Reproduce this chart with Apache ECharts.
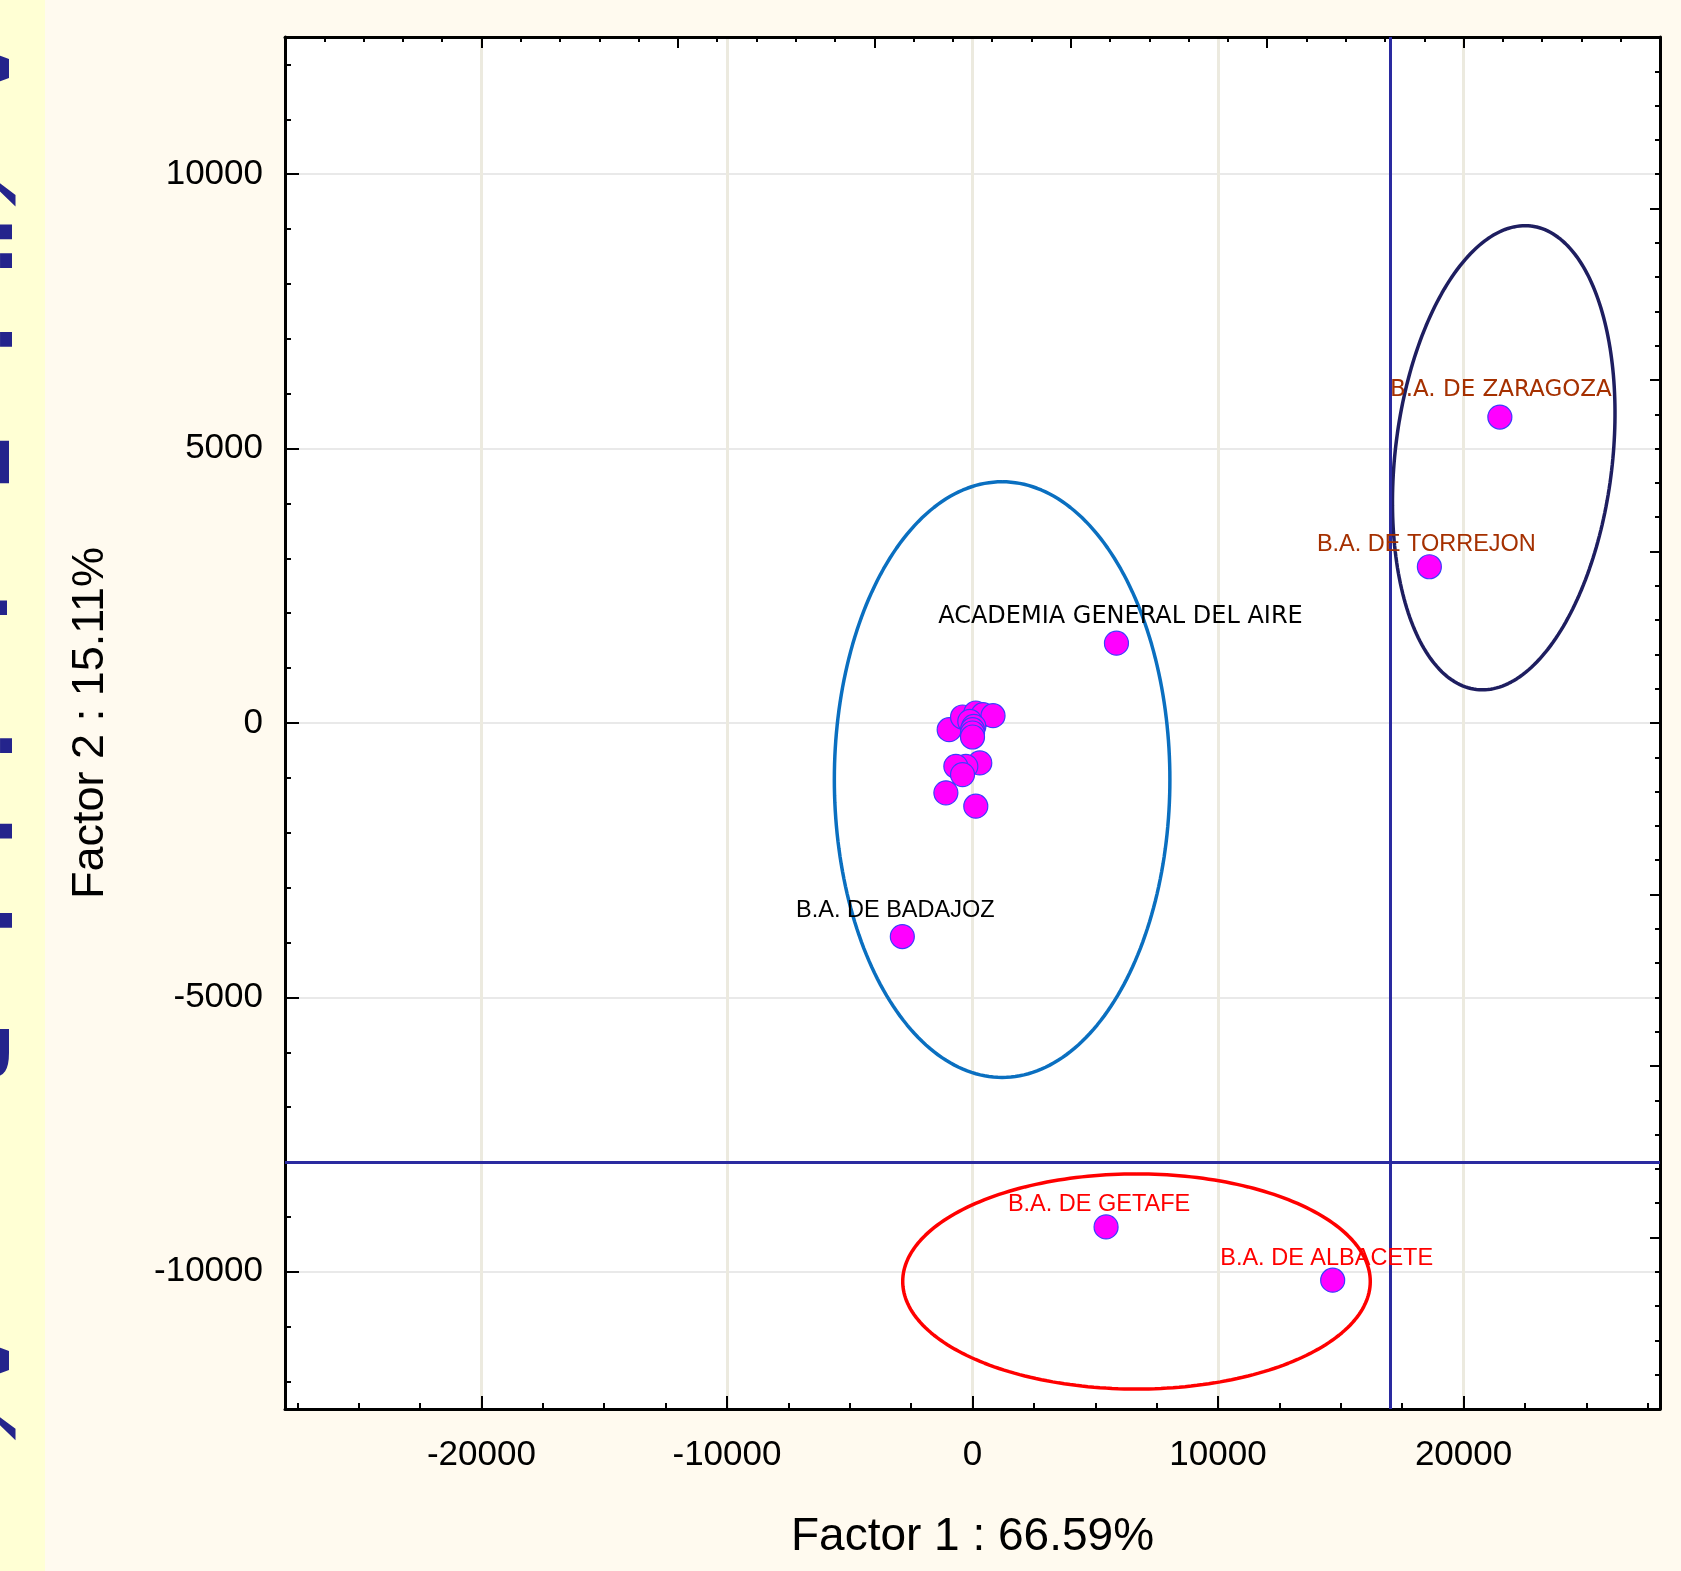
<!DOCTYPE html>
<html>
<head>
<meta charset="utf-8">
<script src="https://cdn.jsdelivr.net/npm/echarts@6/dist/echarts.min.js"></script>
<style>
html,body{margin:0;padding:0;background:#FFFAEF;}
#chart{width:1681px;height:1571px;}
</style>
</head>
<body>
<div id="chart"></div>
<script>
// ---------------- data ----------------
const pointNames = [
  'ACADEMIA GENERAL DEL AIRE', 'B.A. DE BADAJOZ', 'B.A. DE ZARAGOZA', 'B.A. DE TORREJON',
  'B.A. DE GETAFE', 'B.A. DE ALBACETE',
  '', '', '', '', '', '', '', '', '', '', '', '', '', '', '', ''
];
const factor1 = [5863, -2858, 21478, 18607, 5440, 14669,
  -950, -406, 134, 430, 836, -110, 53, 0, 0, 0, 296, -272, -678, -406, -1084, 134];
const factor2 = [1455, -3891, 5575, 2847, -9182, -10153,
  -122, 109, 182, 151, 133, 29, -62, -122, -182, -255, -727, -789, -789, -940, -1273, -1516];

const xTickLabels = ['-20000', '-10000', '0', '10000', '20000'];
const yTickLabels = ['-10000', '-5000', '0', '5000', '10000'];
const xRange = [-28000, 28000];
const yRange = [-12500, 12500];
const xTitle = 'Factor 1 : 66.59%';
const yTitle = 'Factor 2 : 15.11%';

const cutLineX = [17000];
const cutLineY = [-8000];

// ellipses: centre and two conjugate semi-axis vectors (data units)
const ellipseCenterX = [1206, 21636, 6679];
const ellipseCenterY = [-1031, 4833, -10176];
const ellipseAxis1X = [0, 1112, 0];
const ellipseAxis1Y = [5427, 4222, 1960];
const ellipseAxis2X = [6833, 4393, 9521];
const ellipseAxis2Y = [0, -233, 0];

// ---------------- styles ----------------
const ellipseColors = ['#0A6FC0', '#1E1E60', '#FF0000'];
const labelStyles = {
  'ACADEMIA GENERAL DEL AIRE': {color: '#000000', fontFamily: 'DejaVu Sans', fontSize: 24, offset: [4, 2]},
  'B.A. DE BADAJOZ': {color: '#000000', fontFamily: 'Liberation Sans', fontSize: 23.5, offset: [-7, 3]},
  'B.A. DE ZARAGOZA': {color: '#A53000', fontFamily: 'DejaVu Sans', fontSize: 23, offset: [1, 1]},
  'B.A. DE TORREJON': {color: '#A53000', fontFamily: 'Liberation Sans', fontSize: 23.5, offset: [-3, 6]},
  'B.A. DE GETAFE': {color: '#FF0000', fontFamily: 'Liberation Sans', fontSize: 23.5, offset: [-7, 6]},
  'B.A. DE ALBACETE': {color: '#FF0000', fontFamily: 'Liberation Sans', fontSize: 23.5, offset: [-6, 7]}
};

// ---------------- decorative axis categories ----------------
const xCats = [];
for (let v = xRange[0]; v <= xRange[1]; v += 500) xCats.push(String(v));
const yCats = [];
for (let v = yRange[0]; v <= yRange[1]; v += 500) yCats.push(String(v));
const topCats = [];
for (let i = 0; i <= 35; i++) topCats.push(String(i));
const rightCats = [];
for (let i = 0; i <= 40; i++) rightCats.push(String(i));

function ellipsePath(k) {
  const pts = [];
  for (let i = 0; i <= 240; i++) {
    const t = 2 * Math.PI * i / 240;
    pts.push([
      ellipseCenterX[k] + ellipseAxis1X[k] * Math.cos(t) + ellipseAxis2X[k] * Math.sin(t),
      ellipseCenterY[k] + ellipseAxis1Y[k] * Math.cos(t) + ellipseAxis2Y[k] * Math.sin(t)
    ]);
  }
  return pts;
}

const FONT = 'Liberation Sans';
const frame = {onZero: false, lineStyle: {color: '#000', width: 3}};
const noLine = {show: false, onZero: false};
const tickStyle = {color: '#000', width: 2};

const chart = echarts.init(document.getElementById('chart'), null, {renderer: 'canvas'});

const series = [];
for (let k = 0; k < ellipseCenterX.length; k++) {
  series.push({
    type: 'line', xAxisIndex: 0, yAxisIndex: 0,
    data: ellipsePath(k), showSymbol: false, symbol: 'none', silent: true, z: 3,
    lineStyle: {color: ellipseColors[k], width: 3.5}
  });
}
series.push({
  type: 'line', xAxisIndex: 0, yAxisIndex: 0, data: [], z: 2,
  markLine: {
    silent: true, symbol: 'none', animation: false,
    label: {show: false},
    lineStyle: {color: '#2A2AA0', width: 3, type: 'solid'},
    data: cutLineX.map(v => ({xAxis: v})).concat(cutLineY.map(v => ({yAxis: v})))
  }
});
series.push({
  type: 'scatter', xAxisIndex: 0, yAxisIndex: 0, z: 5,
  symbol: 'circle', symbolSize: 24,
  itemStyle: {color: '#FF00FF', borderColor: '#3C3CFF', borderWidth: 1.2, opacity: 1},
  data: pointNames.map((n, i) => {
    const s = labelStyles[n];
    return {
      name: n, value: [factor1[i], factor2[i]],
      label: s ? {show: true, position: 'top', distance: 4, formatter: n,
        color: s.color, fontFamily: s.fontFamily, fontSize: s.fontSize, offset: s.offset} : {show: false}
    };
  })
});

chart.setOption({
  animation: false,
  backgroundColor: '#FFFAEF',
  graphic: [
    {type: 'rect', left: 0, top: 0, z: -1, shape: {x: 0, y: 0, width: 45, height: 1571}, style: {fill: '#FFFFD4'}},
    {type: 'text', x: 12, y: 36, rotation: -Math.PI / 2, z: 0,
      style: {text: 'Análisis Factorial de Bases Aéreas', font: 'bold 84px "DejaVu Sans"', fill: '#24248C', align: 'left', verticalAlign: 'top'}}
  ],
  grid: {left: 285, top: 37, width: 1375, height: 1372, show: true, backgroundColor: '#FFFFFF', borderWidth: 0},
  xAxis: [
    {type: 'value', min: xRange[0], max: xRange[1], position: 'bottom', axisLine: frame,
      axisTick: {show: false}, axisLabel: {show: false}, splitLine: {show: false}},
    {type: 'category', data: xCats, boundaryGap: false, position: 'bottom', axisLine: noLine,
      axisTick: {show: true, inside: true, length: 13, interval: (i, v) => xTickLabels.includes(v), lineStyle: tickStyle},
      axisLabel: {show: true, interval: (i, v) => xTickLabels.includes(v), fontSize: 35, fontFamily: FONT, color: '#000', margin: 29},
      splitLine: {show: true, interval: (i, v) => xTickLabels.includes(v), lineStyle: {color: '#ECEADF', width: 3}},
      name: xTitle, nameLocation: 'middle', nameGap: 105,
      nameTextStyle: {fontSize: 46, fontFamily: FONT, color: '#000'}},
    {type: 'category', data: xCats, boundaryGap: false, position: 'bottom', axisLine: noLine,
      axisTick: {show: true, inside: true, length: 6, interval: (i, v) => (+v) % 2500 === 0, lineStyle: tickStyle},
      axisLabel: {show: false}, splitLine: {show: false}},
    {type: 'category', data: topCats, boundaryGap: false, position: 'top', axisLine: frame,
      axisTick: {show: true, inside: true, length: 11, interval: (i) => i % 5 === 0, lineStyle: tickStyle},
      axisLabel: {show: false}, splitLine: {show: false}},
    {type: 'category', data: topCats, boundaryGap: false, position: 'top', axisLine: noLine,
      axisTick: {show: true, inside: true, length: 5, interval: 0, lineStyle: tickStyle},
      axisLabel: {show: false}, splitLine: {show: false}}
  ],
  yAxis: [
    {type: 'value', min: yRange[0], max: yRange[1], position: 'left', axisLine: frame,
      axisTick: {show: false}, axisLabel: {show: false}, splitLine: {show: false}},
    {type: 'category', data: yCats, boundaryGap: false, position: 'left', axisLine: noLine,
      axisTick: {show: true, inside: true, length: 14, interval: (i, v) => yTickLabels.includes(v), lineStyle: tickStyle},
      axisLabel: {show: true, interval: (i, v) => yTickLabels.includes(v), fontSize: 35, fontFamily: FONT, color: '#000', margin: 22},
      splitLine: {show: true, interval: (i, v) => yTickLabels.includes(v), lineStyle: {color: '#E2E2E2', width: 1.5}},
      name: yTitle, nameLocation: 'middle', nameGap: 172,
      nameTextStyle: {fontSize: 45, fontFamily: FONT, color: '#000'}},
    {type: 'category', data: yCats, boundaryGap: false, position: 'left', axisLine: noLine,
      axisTick: {show: true, inside: true, length: 6, interval: (i, v) => (+v) % 1000 === 0, lineStyle: tickStyle},
      axisLabel: {show: false}, splitLine: {show: false}},
    {type: 'category', data: rightCats, boundaryGap: false, position: 'right', axisLine: frame,
      axisTick: {show: true, inside: true, length: 10, interval: (i) => i % 5 === 0, lineStyle: tickStyle},
      axisLabel: {show: false}, splitLine: {show: false}},
    {type: 'category', data: rightCats, boundaryGap: false, position: 'right', axisLine: noLine,
      axisTick: {show: true, inside: true, length: 5, interval: 0, lineStyle: tickStyle},
      axisLabel: {show: false}, splitLine: {show: false}}
  ],
  series: series
});
</script>
</body>
</html>
